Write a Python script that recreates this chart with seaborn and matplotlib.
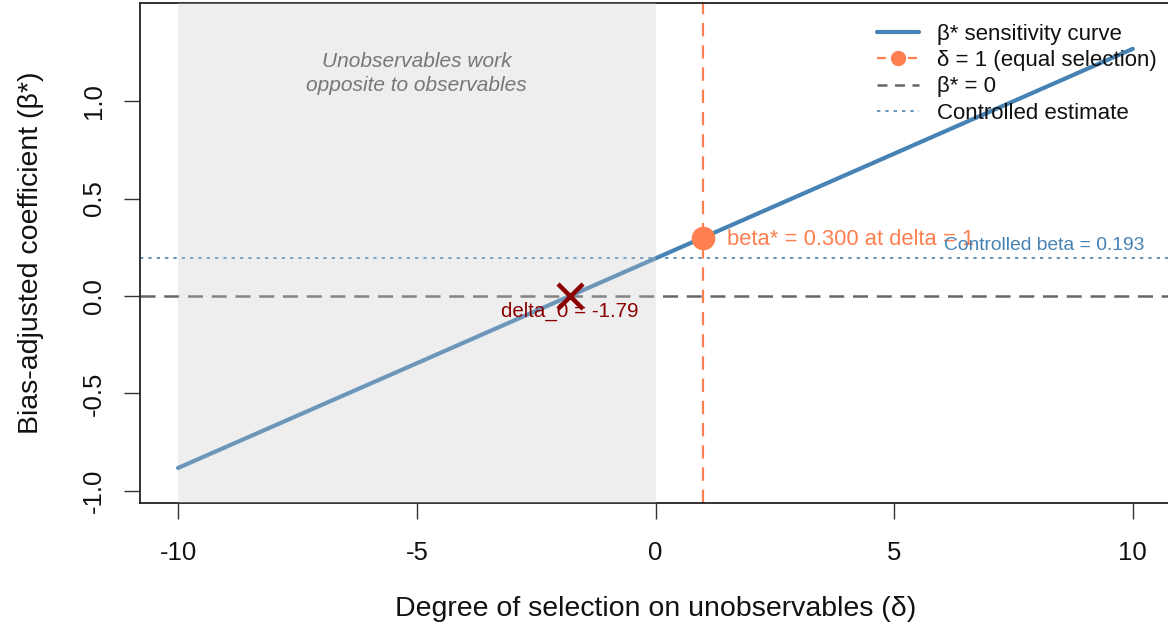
import numpy as np
import pandas as pd
import matplotlib
matplotlib.use("Agg")
import matplotlib.pyplot as plt
import seaborn as sns
from matplotlib.patches import Rectangle
from matplotlib.lines import Line2D

# ---- data ----
delta = [-10, -5, 0, 1, 5, 10]
beta_star = [-0.882, -0.345, 0.193, 0.300, 0.730, 1.268]
delta_equal = 1.0
beta_at_equal = 0.300
delta_zero = -1.79
controlled_beta = 0.193
xticks = [-10, -5, 0, 5, 10]
yticks = [-1.0, -0.5, 0.0, 0.5, 1.0]
ytick_labels = ["-1.0", "-0.5", "0.0", "0.5", "1.0"]

sns.set_theme(style="white")
plt.rcParams["font.family"] = ["Liberation Sans", "DejaVu Sans"]

W, H = 1168, 628
fig = plt.figure(figsize=(W / 100, H / 100), dpi=100)
left, right, top, bottom = 140, 1171, 3, 503
ax = fig.add_axes([left / W, 1 - bottom / H, (right - left) / W, (bottom - top) / H])

df = pd.DataFrame({"delta": delta, "beta": beta_star})
steel = "#4682B4"
coral = "#FF7F50"

sns.lineplot(data=df, x="delta", y="beta", ax=ax, color=steel, lw=3, zorder=2,
             estimator=None, sort=True)
ax.axhline(0, color="#666666", lw=1.8, ls=(0, (6, 3.5)), zorder=2)
ax.axhline(controlled_beta, color=steel, lw=1.2, ls=(0, (2, 3)), zorder=2)
ax.axvline(delta_equal, color=coral, lw=1.6, ls=(0, (6, 4)), zorder=2)

# shaded region drawn over lines (semi-transparent)
ax.add_patch(Rectangle((-10, -5), 10, 10, facecolor="#c8c8c8", alpha=0.3,
                       edgecolor="none", zorder=3))
ax.text(-5, 1.14, "Unobservables work\nopposite to observables", ha="center",
        va="center", style="italic", color="#777777", fontsize=15,
        linespacing=1.32, zorder=4)

ax.plot([delta_equal], [beta_at_equal], "o", color=coral, ms=16, zorder=5)
ax.text(delta_equal + 0.5, beta_at_equal - 0.01, "beta* = 0.300 at delta = 1",
        color=coral, fontsize=15.8, ha="left", va="center", zorder=5)
ax.plot([delta_zero], [0], "x", color="#8B0000", ms=18, mew=3.2, zorder=5)
ax.text(delta_zero, -0.077, "delta_0 = -1.79", color="#8B0000", fontsize=14.8,
        ha="center", va="center", zorder=5)
ax.text(10.25, controlled_beta + 0.022, "Controlled beta = 0.193", color=steel,
        fontsize=13.9, ha="right", va="bottom", zorder=5)

ax.set_xlim(-10.8, 10.8)
ax.set_ylim(-1.062, 1.503)
ax.set_xticks(xticks)
ax.set_xticklabels([str(t) for t in xticks])
ax.set_yticks(yticks)
ax.set_yticklabels(ytick_labels, rotation=90, va="center")
ax.tick_params(axis="both", which="both", direction="out", length=11.5, width=1,
               color="#333333", labelsize=18.5, bottom=True, left=True,
               labelcolor="#111111")
ax.tick_params(axis="x", pad=16)
ax.tick_params(axis="y", pad=13)
for s in ["left", "bottom", "top", "right"]:
    ax.spines[s].set_color("#222222")
    ax.spines[s].set_linewidth(1.3)

ax.set_xlabel("Degree of selection on unobservables (δ)", fontsize=20.5,
              labelpad=22, color="#111111")
ax.set_ylabel("Bias-adjusted coefficient (β*)", fontsize=20.5, labelpad=27,
              color="#111111")

handles = [
    Line2D([], [], color=steel, lw=3),
    Line2D([], [], color=coral, lw=1.6, ls=(0, (4, 3)), marker="o", ms=10),
    Line2D([], [], color="#666666", lw=1.8, ls=(0, (4, 3))),
    Line2D([], [], color=steel, lw=1.2, ls=(0, (2, 3))),
]
labels = ["β* sensitivity curve", "δ = 1 (equal selection)", "β* = 0",
          "Controlled estimate"]
leg = ax.legend(handles, labels, loc="upper right", bbox_to_anchor=(1.006, 1.0),
                frameon=False, fontsize=16, handlelength=1.9, handletextpad=0.8,
                labelspacing=0.24, borderaxespad=0.53)
for t in leg.get_texts():
    t.set_color("#111111")
leg.set_zorder(6)

fig.savefig("out.png", dpi=100)
